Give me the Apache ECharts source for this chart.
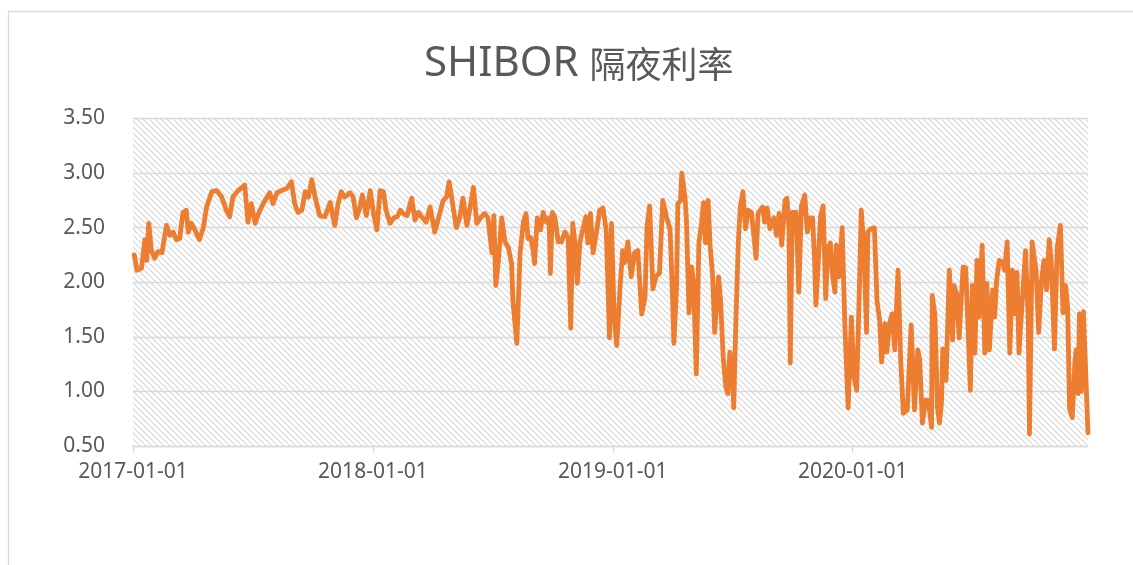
<!DOCTYPE html>
<html><head><meta charset="utf-8">
<script src="https://cdn.jsdelivr.net/npm/echarts@6/dist/echarts.min.js"></script>
<style>html,body{margin:0;padding:0;background:#fff}#c{width:1133px;height:565px}</style>
</head><body><div id="c"></div>
<script>
const titleLatin = 'SHIBOR ';
const titleCJK = '隔夜利率';
const xStart = '2017-01-01';
const xEnd = '2020-12-24';
const yMin = 0.5, yMax = 3.5, yStep = 0.5;

const dates = [
'2017-01-03','2017-01-07','2017-01-14','2017-01-19','2017-01-22','2017-01-25','2017-01-29','2017-02-03','2017-02-08','2017-02-14',
'2017-02-21','2017-02-26','2017-03-03','2017-03-08','2017-03-13','2017-03-18','2017-03-23','2017-03-26','2017-03-31','2017-04-05',
'2017-04-12','2017-04-18','2017-04-23','2017-05-01','2017-05-08','2017-05-16','2017-05-23','2017-05-28','2017-06-02','2017-06-10',
'2017-06-20','2017-06-25','2017-06-30','2017-07-06','2017-07-11','2017-07-18','2017-07-23','2017-07-28','2017-08-02','2017-08-08',
'2017-08-15','2017-08-23','2017-08-30','2017-09-04','2017-09-09','2017-09-15','2017-09-20','2017-09-25','2017-09-30','2017-10-05',
'2017-10-12','2017-10-20','2017-10-28','2017-11-04','2017-11-09','2017-11-14','2017-11-19','2017-11-27','2017-12-02','2017-12-07',
'2017-12-12','2017-12-16','2017-12-22','2017-12-28','2018-01-02','2018-01-07','2018-01-12','2018-01-17','2018-01-21','2018-01-27',
'2018-02-02','2018-02-07','2018-02-12','2018-02-16','2018-02-22','2018-03-01','2018-03-06','2018-03-11','2018-03-16','2018-03-23',
'2018-03-29','2018-04-05','2018-04-10','2018-04-18','2018-04-23','2018-04-27','2018-05-02','2018-05-08','2018-05-13','2018-05-18',
'2018-05-24','2018-05-29','2018-06-03','2018-06-08','2018-06-15','2018-06-20','2018-06-25','2018-07-01','2018-07-04','2018-07-07',
'2018-07-11','2018-07-16','2018-07-21','2018-07-26','2018-07-31','2018-08-02','2018-08-08','2018-08-13','2018-08-18','2018-08-22',
'2018-08-25','2018-08-29','2018-09-02','2018-09-04','2018-09-08','2018-09-13','2018-09-17','2018-09-22','2018-09-26','2018-09-28',
'2018-10-01','2018-10-05','2018-10-10','2018-10-15','2018-10-20','2018-10-25','2018-10-29','2018-11-01','2018-11-04','2018-11-08',
'2018-11-12','2018-11-17','2018-11-21','2018-11-24','2018-11-28','2018-12-02','2018-12-07','2018-12-12','2018-12-17','2018-12-22',
'2018-12-27','2018-12-30','2019-01-03','2019-01-07','2019-01-12','2019-01-16','2019-01-19','2019-01-24','2019-01-29','2019-02-03',
'2019-02-08','2019-02-14','2019-02-19','2019-02-22','2019-02-26','2019-03-03','2019-03-08','2019-03-13','2019-03-18','2019-03-24',
'2019-03-29','2019-03-31','2019-04-04','2019-04-08','2019-04-10','2019-04-14','2019-04-16','2019-04-21','2019-04-23','2019-04-27',
'2019-05-01','2019-05-04','2019-05-08','2019-05-12','2019-05-16','2019-05-19','2019-05-22','2019-05-26','2019-05-29','2019-06-02',
'2019-06-05','2019-06-08','2019-06-11','2019-06-14','2019-06-18','2019-06-22','2019-06-25','2019-06-28','2019-07-02','2019-07-04',
'2019-07-07','2019-07-11','2019-07-14','2019-07-18','2019-07-22','2019-07-26','2019-07-31','2019-08-07','2019-08-10','2019-08-17',
'2019-08-20','2019-08-24','2019-08-28','2019-09-03','2019-09-07','2019-09-11','2019-09-15','2019-09-20','2019-09-23','2019-09-26',
'2019-09-28','2019-10-01','2019-10-07','2019-10-11','2019-10-15','2019-10-20','2019-10-24','2019-10-28','2019-11-01','2019-11-04',
'2019-11-06','2019-11-09','2019-11-13','2019-11-17','2019-11-21','2019-11-24','2019-11-28','2019-12-01','2019-12-05','2019-12-07',
'2019-12-11','2019-12-16','2019-12-20','2019-12-25','2019-12-30','2020-01-03','2020-01-07','2020-01-11','2020-01-14','2020-01-18',
'2020-01-22','2020-01-24','2020-01-29','2020-02-03','2020-02-07','2020-02-11','2020-02-14','2020-02-19','2020-02-22','2020-02-26',
'2020-03-01','2020-03-05','2020-03-10','2020-03-14','2020-03-18','2020-03-24','2020-03-30','2020-04-04','2020-04-09','2020-04-12',
'2020-04-16','2020-04-21','2020-04-25','2020-04-30','2020-05-01','2020-05-05','2020-05-09','2020-05-12','2020-05-15','2020-05-17',
'2020-05-22','2020-05-27','2020-06-01','2020-06-03','2020-06-07','2020-06-11','2020-06-14','2020-06-17','2020-06-21','2020-06-24',
'2020-06-28','2020-07-01','2020-07-05','2020-07-08','2020-07-11','2020-07-16','2020-07-20','2020-07-23','2020-07-27','2020-08-01',
'2020-08-04','2020-08-07','2020-08-11','2020-08-16','2020-08-19','2020-08-23','2020-08-27','2020-08-31','2020-09-03','2020-09-07',
'2020-09-10','2020-09-14','2020-09-20','2020-09-24','2020-09-26','2020-09-30','2020-10-06','2020-10-10','2020-10-14','2020-10-18',
'2020-10-22','2020-10-26','2020-10-29','2020-11-03','2020-11-07','2020-11-12','2020-11-16','2020-11-20','2020-11-23','2020-11-26',
'2020-11-30','2020-12-04','2020-12-06','2020-12-09','2020-12-11','2020-12-14','2020-12-17','2020-12-24'
];

const values = [
2.25,2.11,2.13,2.39,2.20,2.54,2.29,2.22,2.28,2.27,
2.52,2.43,2.46,2.39,2.40,2.64,2.66,2.46,2.54,2.48,
2.39,2.50,2.69,2.83,2.84,2.78,2.66,2.60,2.78,2.84,
2.89,2.55,2.72,2.54,2.63,2.72,2.77,2.82,2.72,2.82,
2.84,2.86,2.92,2.72,2.64,2.66,2.83,2.78,2.94,2.78,
2.61,2.60,2.73,2.52,2.72,2.83,2.78,2.82,2.78,2.59,
2.68,2.80,2.61,2.84,2.63,2.48,2.84,2.83,2.66,2.54,
2.59,2.60,2.66,2.63,2.61,2.77,2.57,2.64,2.60,2.55,
2.69,2.46,2.57,2.75,2.78,2.92,2.73,2.50,2.59,2.77,
2.52,2.69,2.87,2.54,2.60,2.63,2.59,2.27,2.61,1.97,
2.20,2.59,2.37,2.32,2.17,1.83,1.44,2.27,2.55,2.63,
2.40,2.41,2.28,2.17,2.59,2.48,2.64,2.55,2.59,2.08,
2.64,2.59,2.37,2.37,2.46,2.41,1.58,2.54,2.39,1.99,
2.37,2.50,2.60,2.36,2.63,2.27,2.45,2.66,2.68,2.48,
1.49,2.54,1.68,1.42,1.95,2.29,2.18,2.37,2.05,2.27,
2.29,1.71,1.86,2.50,2.70,1.94,2.06,2.08,2.75,2.59,
2.49,2.20,1.44,1.95,2.72,2.75,3.00,2.77,2.57,1.72,
2.14,1.99,1.16,2.36,2.54,2.73,2.36,2.75,2.34,2.05,
1.54,1.81,2.05,1.83,1.31,1.04,0.98,1.36,1.13,0.85,
1.59,2.36,2.69,2.83,2.49,2.66,2.64,2.22,2.63,2.69,
2.55,2.68,2.49,2.59,2.43,2.63,2.34,2.75,2.77,2.50,
1.26,2.64,2.64,1.91,2.70,2.80,2.46,2.59,2.59,2.20,
1.79,2.11,2.60,2.70,1.85,2.31,2.36,2.08,1.91,2.34,
2.05,2.50,1.62,0.85,1.68,1.13,1.01,1.90,2.66,2.32,
1.54,2.46,2.49,2.50,1.83,1.65,1.27,1.62,1.36,1.62,
1.71,1.38,2.11,1.29,0.80,0.83,1.61,0.83,1.38,1.29,
0.71,0.92,0.92,0.67,1.88,1.71,0.85,0.71,0.89,1.39,
1.10,2.11,1.47,1.97,1.90,1.49,1.83,2.14,2.13,1.65,
1.01,1.97,1.35,2.20,1.68,2.34,1.35,1.99,1.38,1.93,
1.68,2.02,2.20,2.18,2.11,2.37,1.35,2.11,1.71,2.09,
1.35,1.74,2.29,1.65,0.61,2.37,2.11,1.54,2.00,2.20,
1.93,2.39,2.20,1.39,2.31,2.52,1.72,1.97,1.77,0.84,
0.76,1.26,1.38,0.98,1.71,1.00,1.73,0.62
];

// hatch pattern for plot area
const pc = document.createElement('canvas');
pc.width = 6; pc.height = 6;
const g = pc.getContext('2d');
g.strokeStyle = '#d6d6d6';
g.lineWidth = 1.2;
for (const o of [-6, 0, 6]) { g.beginPath(); g.moveTo(o, 0); g.lineTo(o + 6, 6); g.stroke(); }

const chart = echarts.init(document.getElementById('c'), null, { renderer: 'canvas' });
const pad = n => (n < 10 ? '0' : '') + n;
chart.setOption({
  animation: false,
  backgroundColor: '#ffffff',
  graphic: [{
    type: 'rect', silent: true, z: -10,
    shape: { x: 8.5, y: 11.5, width: 1200, height: 700 },
    style: { fill: 'none', stroke: '#d9d9d9', lineWidth: 1.3 }
  }],
  title: {
    text: '{a|' + titleLatin + '}{b|' + titleCJK + '}', left: 419, top: 38,
    textStyle: {
      color: '#595959',
      rich: {
        a: { fontFamily: 'Noto Sans', fontSize: 42, color: '#595959', fontWeight: 'normal' },
        b: { fontFamily: 'Noto Sans CJK SC', fontSize: 36, color: '#595959', fontWeight: 'normal' }
      }
    }
  },
  grid: {
    left: 133, right: 45, top: 118.5, bottom: 119,
    show: true, borderWidth: 0,
    backgroundColor: { image: pc, repeat: 'repeat' }
  },
  xAxis: {
    type: 'time', min: xStart, max: xEnd,
    minInterval: 365 * 864e5, maxInterval: 366 * 864e5,
    axisLine: { lineStyle: { color: '#d9d9d9', width: 1.3 } },
    axisTick: { show: true, length: 7, lineStyle: { color: '#d9d9d9', width: 1.3 } },
    splitLine: { show: false },
    axisLabel: {
      color: '#595959', fontSize: 21, fontFamily: 'Noto Sans', margin: 16,
      showMinLabel: true, showMaxLabel: false, hideOverlap: false,
      formatter: function (v) {
        const d = new Date(v);
        if (d.getMonth() !== 0 || d.getDate() !== 1) return '';
        return d.getFullYear() + '-' + pad(d.getMonth() + 1) + '-' + pad(d.getDate());
      }
    }
  },
  yAxis: {
    type: 'value', min: yMin, max: yMax, interval: yStep,
    axisLine: { show: false }, axisTick: { show: false },
    splitLine: { lineStyle: { color: '#d9d9d9', width: 1.3 } },
    axisLabel: { color: '#595959', fontSize: 21, fontFamily: 'Noto Sans', margin: 28, formatter: v => v.toFixed(2) }
  },
  series: [{
    type: 'line', showSymbol: false, silent: true,
    data: dates.map((d, i) => [d, values[i]]),
    lineStyle: { color: '#ED7D31', width: 4.8, join: 'round', cap: 'round' }
  }]
});
</script>
</body></html>
